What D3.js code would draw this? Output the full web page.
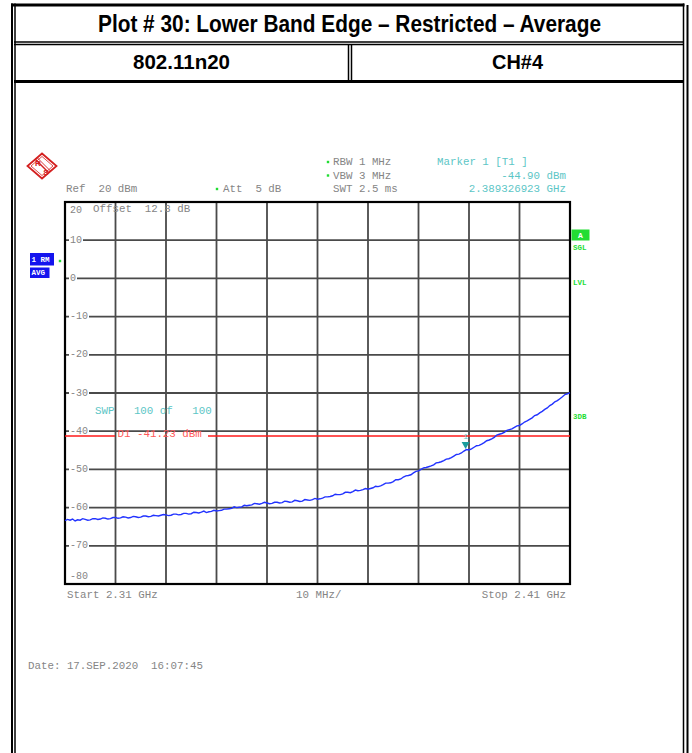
<!DOCTYPE html>
<html><head><meta charset="utf-8">
<script src="https://cdn.jsdelivr.net/npm/d3@7"></script>
<style>
html,body{margin:0;padding:0;background:#fff;}
svg{display:block;}
text{white-space:pre;}
</style></head><body>
<script>
// ---------- data ----------
const titleText = "Plot # 30: Lower Band Edge \u2013 Restricted \u2013 Average";
const subLabels = ["802.11n20", "CH#4"];
const yTicks = [20, 10, 0, -10, -20, -30, -40, -50, -60, -70, -80];
const xDivsGHz = [2.31, 2.32, 2.33, 2.34, 2.35, 2.36, 2.37, 2.38, 2.39, 2.40, 2.41];
const sweepRangeGHz = [2.31, 2.41];
// trace, one reading per 0.5 MHz from 2.310 to 2.410 GHz (dBm)
const traceDbm = [
  -63.4,-63.1,-63.3,-63.0,-63.5,-63.2,-63.3,-62.9,-63.1,-63.3,-63.2,-62.9,-62.9,-63.1,-63.0,-62.7,-62.8,-63.0,-62.9,-62.6,
  -62.6,-62.8,-62.7,-62.4,-62.5,-62.7,-62.6,-62.3,-62.4,-62.6,-62.5,-62.2,-62.2,-62.4,-62.3,-62.0,-62.1,-62.2,-62.0,-61.8,
  -61.9,-62.1,-62.0,-61.7,-61.7,-61.9,-61.8,-61.5,-61.5,-61.7,-61.6,-61.2,-61.3,-61.4,-61.2,-60.9,-61.3,-61.1,-61.0,-60.7,
  -60.9,-60.8,-60.7,-60.4,-60.4,-60.3,-60.2,-59.8,-60.0,-59.9,-59.8,-59.4,-59.5,-59.4,-59.3,-58.9,-59.0,-59.1,-58.9,-58.6,
  -58.8,-59.0,-58.9,-58.6,-58.6,-58.8,-58.7,-58.3,-58.4,-58.6,-58.5,-58.1,-58.2,-58.4,-58.3,-57.9,-58.0,-58.1,-57.9,-57.6,
  -57.8,-57.7,-57.5,-57.2,-57.2,-57.1,-56.9,-56.5,-56.6,-56.6,-56.4,-56.0,-56.0,-56.1,-55.8,-55.4,-55.6,-55.5,-55.3,-55.0,
  -55.2,-55.0,-54.8,-54.4,-54.5,-54.3,-54.0,-53.6,-53.6,-53.5,-53.2,-52.7,-52.7,-52.5,-52.0,-51.7,-51.6,-51.4,-50.9,-50.5,
  -50.4,-50.0,-49.6,-49.5,-49.3,-49.1,-48.8,-48.3,-48.2,-48.0,-47.7,-47.3,-47.2,-46.9,-46.5,-46.1,-46.0,-45.7,-45.2,-44.8,
  -44.9,-44.6,-44.2,-43.8,-43.7,-43.4,-43.0,-42.5,-42.3,-42.0,-41.6,-41.0,-40.8,-40.6,-40.3,-39.8,-39.6,-39.4,-39.0,-38.6,
  -38.5,-38.1,-37.6,-37.3,-36.9,-36.5,-35.9,-35.7,-35.2,-34.8,-34.3,-33.9,-33.3,-32.9,-32.3,-32.0,-31.5,-31.0,-30.4,-30.2,
  -29.9
];
const displayLine = [-41.23];
const markerFreqGHz = [2.389326923];
const markerDbm = [-44.90];
const headerLeft = ["RBW 1 MHz", "VBW 3 MHz", "SWT 2.5 ms"];
const markerLines = ["Marker 1 [T1 ]", "-44.90 dBm", "2.389326923 GHz"];
const sideLabels = ["SGL", "LVL", "3DB"];

// ---------- drawing ----------
const W = 692, H = 753;
const svg = d3.select("body").append("svg").attr("width", W).attr("height", H);
const mono = "'Liberation Mono','DejaVu Sans Mono',monospace";
const narrow = "'Liberation Sans',Arial,sans-serif";
const gray = "#858585", cyan = "#5cc6c6", green = "#22dd33";

function ln(x1,y1,x2,y2,w,c){svg.append("line").attr("x1",x1).attr("y1",y1).attr("x2",x2).attr("y2",y2).attr("stroke",c||"#000").attr("stroke-width",w);}
ln(12, 3.5, 12, H, 2);
ln(15, 3.5, 15, H, 1.5);
ln(683.5, 3.5, 683.5, H, 1.5);
ln(687.5, 5, 687.5, H, 2);
ln(11, 5, 684.5, 5, 3);
ln(14, 42, 684, 42, 1.5);
ln(14, 44.5, 684, 44.5, 1.5);
ln(14, 81.5, 684, 81.5, 3);
ln(348.5, 44, 348.5, 81, 1.5);
ln(351.5, 44, 351.5, 81, 1.5);

svg.append("text").attr("x", 349.5).attr("y", 32).attr("text-anchor","middle")
  .attr("font-family", narrow).attr("font-weight","bold").attr("font-size", 23)
  .attr("textLength", 503).attr("lengthAdjust","spacingAndGlyphs").text(titleText);
const subCx = [181.5, 517.5], subW = [97, 51];
subLabels.forEach((s,i)=>{
  svg.append("text").attr("x", subCx[i]).attr("y", 69).attr("text-anchor","middle")
    .attr("font-family", narrow).attr("font-weight","bold").attr("font-size", 21)
    .attr("textLength", subW[i]).attr("lengthAdjust","spacingAndGlyphs").text(s);
});

const x = d3.scaleLinear().domain(sweepRangeGHz).range([65, 570]);
const y = d3.scaleLinear().domain([-80, 20]).range([584, 202]);

const grid = svg.append("g");
grid.selectAll("line.v").data(xDivsGHz.slice(1,-1)).join("line")
  .attr("x1", d=>x(d)).attr("x2", d=>x(d)).attr("y1", y(20)).attr("y2", y(-80))
  .attr("stroke", "#4a4a4a").attr("stroke-width", 1.8);
grid.selectAll("line.h").data(yTicks.slice(1,-1)).join("line")
  .attr("x1", x(2.31)).attr("x2", x(2.41)).attr("y1", d=>y(d)).attr("y2", d=>y(d))
  .attr("stroke", "#4a4a4a").attr("stroke-width", 1.8);

const txt = (sel, xx, yy, s, opt={}) => sel.append("text").attr("x", xx).attr("y", yy)
  .attr("dominant-baseline","central").attr("font-family", mono)
  .attr("font-size", opt.size||10.8).attr("fill", opt.fill||gray)
  .attr("text-anchor", opt.anchor||"start").attr("font-weight", opt.weight||"normal").text(s);
yTicks.forEach(t=>{
  let yy = y(t);
  if (t === 20) yy = y(t) + 8;
  else if (t === -80) yy = y(t) - 8;
  else {
    const w = String(t).length * 6.0 + 2;
    svg.append("rect").attr("x", 69).attr("y", yy-3).attr("width", w).attr("height", 6).attr("fill","#fff");
  }
  txt(svg, 70, yy, String(t), {size:10});
});

svg.append("rect").attr("x", x(2.31)).attr("y", y(20)).attr("width", x(2.41)-x(2.31)).attr("height", y(-80)-y(20))
  .attr("fill","none").attr("stroke","#000").attr("stroke-width", 2.2);

txt(svg, 66, 189, "Ref  20 dBm");
txt(svg, 223, 189, "Att  5 dB");
txt(svg, 93, 209, "Offset  12.8 dB");
headerLeft.forEach((s,i)=> txt(svg, 333, 162 + i*13.5, s));
[[217,189],[328,162],[328,175.5],[60,261]].forEach(p=>{
  svg.append("rect").attr("x", p[0]-1.2).attr("y", p[1]-1.2).attr("width", 2.4).attr("height", 2.4).attr("fill", green);
});
txt(svg, 437, 162, markerLines[0], {fill:cyan});
txt(svg, 566, 175.5, markerLines[1], {fill:cyan, anchor:"end"});
txt(svg, 566, 189, markerLines[2], {fill:cyan, anchor:"end"});

// R&S logo
const logo = svg.append("g").attr("transform","translate(42,166)");
logo.append("path").attr("d","M0,-12.5 L14.5,0 L0,12.5 L-14.5,0 Z").attr("fill","none").attr("stroke","#d42020").attr("stroke-width",1.8);
logo.append("path").attr("d","M0,-9.5 L11,0 L0,9.5 L-11,0 Z").attr("fill","none").attr("stroke","#d42020").attr("stroke-width",0.8);
logo.append("line").attr("x1",-7).attr("y1",-7).attr("x2",7).attr("y2",7).attr("stroke","#d42020").attr("stroke-width",1.4);
logo.append("line").attr("x1",-5).attr("y1",-8.5).attr("x2",8.5).attr("y2",5).attr("stroke","#d42020").attr("stroke-width",0.9);
logo.append("text").attr("x",-4).attr("y",-0.5).attr("text-anchor","middle").attr("font-family","'Liberation Sans',Arial").attr("font-weight","bold").attr("font-size",8).attr("fill","#d42020").text("R");
logo.append("text").attr("x",4).attr("y",8.5).attr("text-anchor","middle").attr("font-family","'Liberation Sans',Arial").attr("font-weight","bold").attr("font-size",8).attr("fill","#d42020").text("S");

svg.append("rect").attr("x",30).attr("y",253).attr("width",24).attr("height",12.5).attr("fill","#1414ee");
svg.append("rect").attr("x",30).attr("y",267.5).attr("width",19.5).attr("height",10.5).attr("fill","#1414ee");
txt(svg, 31.5, 259.5, "1 RM", {size:7.5, fill:"#fff", weight:"bold"});
txt(svg, 31.5, 273, "AVG", {size:7.5, fill:"#fff", weight:"bold"});

svg.append("rect").attr("x",571.5).attr("y",229.5).attr("width",18).attr("height",11).attr("fill", green);
txt(svg, 580.5, 235.5, "A", {size:8, fill:"#fff", weight:"bold", anchor:"middle"});
[248, 283, 417].forEach((yy,i)=> txt(svg, 573, yy, sideLabels[i], {size:7.5, fill:green, weight:"bold"}));

txt(svg, 95, 410.5, "SWP   100 of   100", {fill:cyan});

const dy = y(displayLine[0]);
svg.append("line").attr("x1", x(2.31)).attr("x2", 115).attr("y1", dy).attr("y2", dy).attr("stroke","#ff1a1a").attr("stroke-width",1.5);
svg.append("line").attr("x1", 208).attr("x2", x(2.41)).attr("y1", dy).attr("y2", dy).attr("stroke","#ff1a1a").attr("stroke-width",1.5);
txt(svg, 117.5, dy - 1.5, "D1 -41.23 dBm", {fill:"#ff5a5a"});

const n = traceDbm.length;
const fAt = i => sweepRangeGHz[0] + i * (sweepRangeGHz[1] - sweepRangeGHz[0]) / (n - 1);
svg.append("path").datum(traceDbm)
  .attr("d", d3.line().x((d,i)=>x(fAt(i))).y(d=>y(d)))
  .attr("fill","none").attr("stroke","#2233ff").attr("stroke-width",1.4);

const mx = x(markerFreqGHz[0]), my = y(markerDbm[0]);
svg.append("path").attr("d", `M${mx-4},${my-8} L${mx+4},${my-8} L${mx},${my-1} Z`).attr("fill","#1a9c9c");
txt(svg, mx, my-13.5, "1", {size:8, fill:cyan, anchor:"middle"});

txt(svg, 67, 595, "Start 2.31 GHz");
txt(svg, 296, 595, "10 MHz/");
txt(svg, 566, 595, "Stop 2.41 GHz", {anchor:"end"});
txt(svg, 28, 665.5, "Date: 17.SEP.2020  16:07:45");
</script>
</body></html>
